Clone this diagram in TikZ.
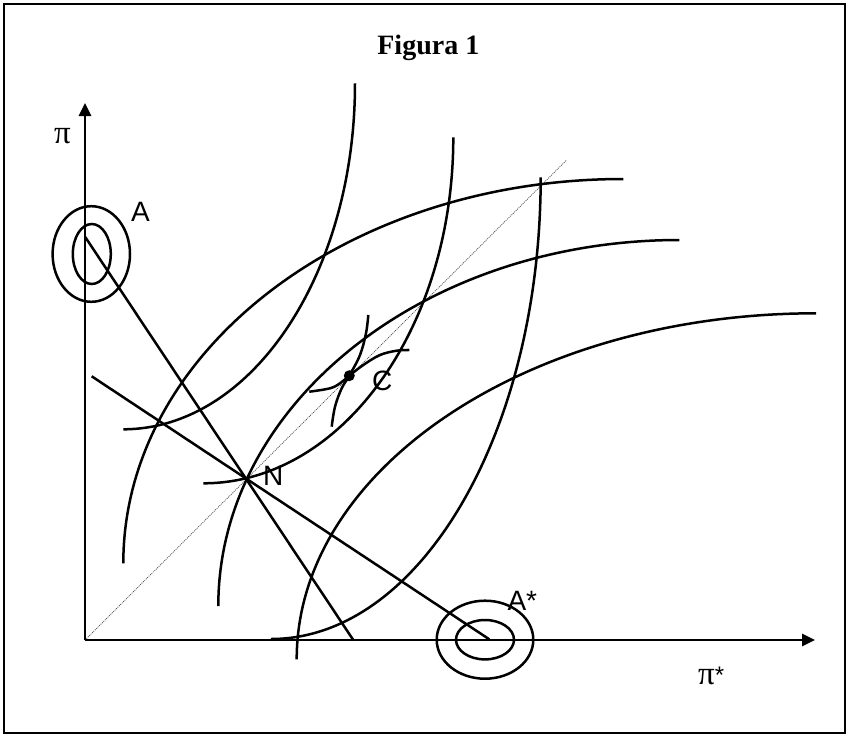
\documentclass[tikz,border=0pt]{standalone}
\usepackage{fontspec}
\setmainfont{Liberation Serif}
\newfontfamily\arialf{Liberation Sans}
\usetikzlibrary{arrows.meta}
\begin{document}
\begin{tikzpicture}[x=1pt,y=-1pt,
  curve/.style={line width=2.5pt},
  axisline/.style={line width=1.7pt,-{Triangle[length=13pt,width=12.5pt]}},
  lbl/.style={font=\arialf\fontsize{28}{28}\selectfont,inner sep=0pt,anchor=base west},
  pil/.style={font=\fontsize{33}{33}\selectfont,inner sep=0pt,anchor=base west},
  diag/.style={line width=0.7pt,black!75,dash pattern=on 1pt off 1pt}]
\useasboundingbox (0,0) rectangle (849,736);
\draw[line width=2.5pt] (4,4) rectangle (845,733);
\node[font=\bfseries\fontsize{28}{28}\selectfont,anchor=base,inner sep=0pt] (title) at (428.3,54) {Figura 1};
% axes
\coordinate (O) at (85,640);
\coordinate (Ytip) at (85,103);
\coordinate (Xtip) at (815,640);
\coordinate (D) at (566.7,160);
\draw[diag] (O) -- (D);
\draw[axisline] (O) -- (Ytip);
\draw[axisline] (O) -- (Xtip);
\node[pil] (pi) at (54,143) {π};
\node[pil] (pistar) at (698,684.5) {π\raisebox{1pt}{\arialf\fontsize{24}{24}\selectfont *}};
% key points
\coordinate (Abl) at (85,236.7);
\coordinate (Asb) at (489.3,639.3);
\coordinate (N) at (245.7,478.3);
\coordinate (C) at (349.3,375.7);
\coordinate (Aend) at (353.3,640);
\coordinate (Lend) at (91.7,376.3);
% bliss point ellipses
\draw[curve] (91.3,254) ellipse[x radius=38.7pt,y radius=47.8pt];
\draw[curve] (91.8,254) ellipse[x radius=19pt,y radius=30pt];
\draw[curve] (485,639.7) ellipse[x radius=48.3pt,y radius=39pt];
\draw[curve] (485,639.7) ellipse[x radius=29pt,y radius=19.7pt];
% reaction lines
\draw[curve] (Abl) -- (N) -- (Aend);
\draw[curve] (Asb) -- (N) -- (Lend);
% home indifference curves (around A)
\draw[curve] (123.3,429.3) .. controls (251.3,429.3) and (355,274.4) .. (355,83.3);
\draw[curve] (203.3,483.3) .. controls (341.4,483.3) and (453.3,328.4) .. (453.3,137.3);
\draw[curve] (271,639) .. controls (420,639) and (540.7,432.3) .. (540.7,177.3);
% foreign indifference curves (around A*)
\draw[curve] (123.3,563.3) .. controls (123.3,351.1) and (347.1,179) .. (623.3,179);
\draw[curve] (218.3,606) .. controls (218.3,403.9) and (424.7,240) .. (679.3,240);
\draw[curve] (296.7,659.3) .. controls (296.7,468.2) and (529.2,313.3) .. (816,313.3);
% small curves through C
\draw[curve] plot[smooth,tension=0.6] coordinates {(309.3,391.7) (330,388.3) (340,383.3) (349.3,375.7) (363.3,365) (380,355) (396.7,350.7) (409.3,350)};
\draw[curve] plot[smooth,tension=0.6] coordinates {(331.7,426.7) (335,406.7) (341.7,388.3) (349.3,375.7) (360,355) (366,333.3) (368.3,315)};
\fill (C) circle[radius=5.5pt];
% labels
\node[lbl] (labA) at (131,221.7) {A};
\node[lbl] (labAs) at (507.3,610) {A*};
\node[lbl] (labN) at (263,485) {N};
\node[lbl] (labC) at (372,390) {C};
\end{tikzpicture}
\end{document}
